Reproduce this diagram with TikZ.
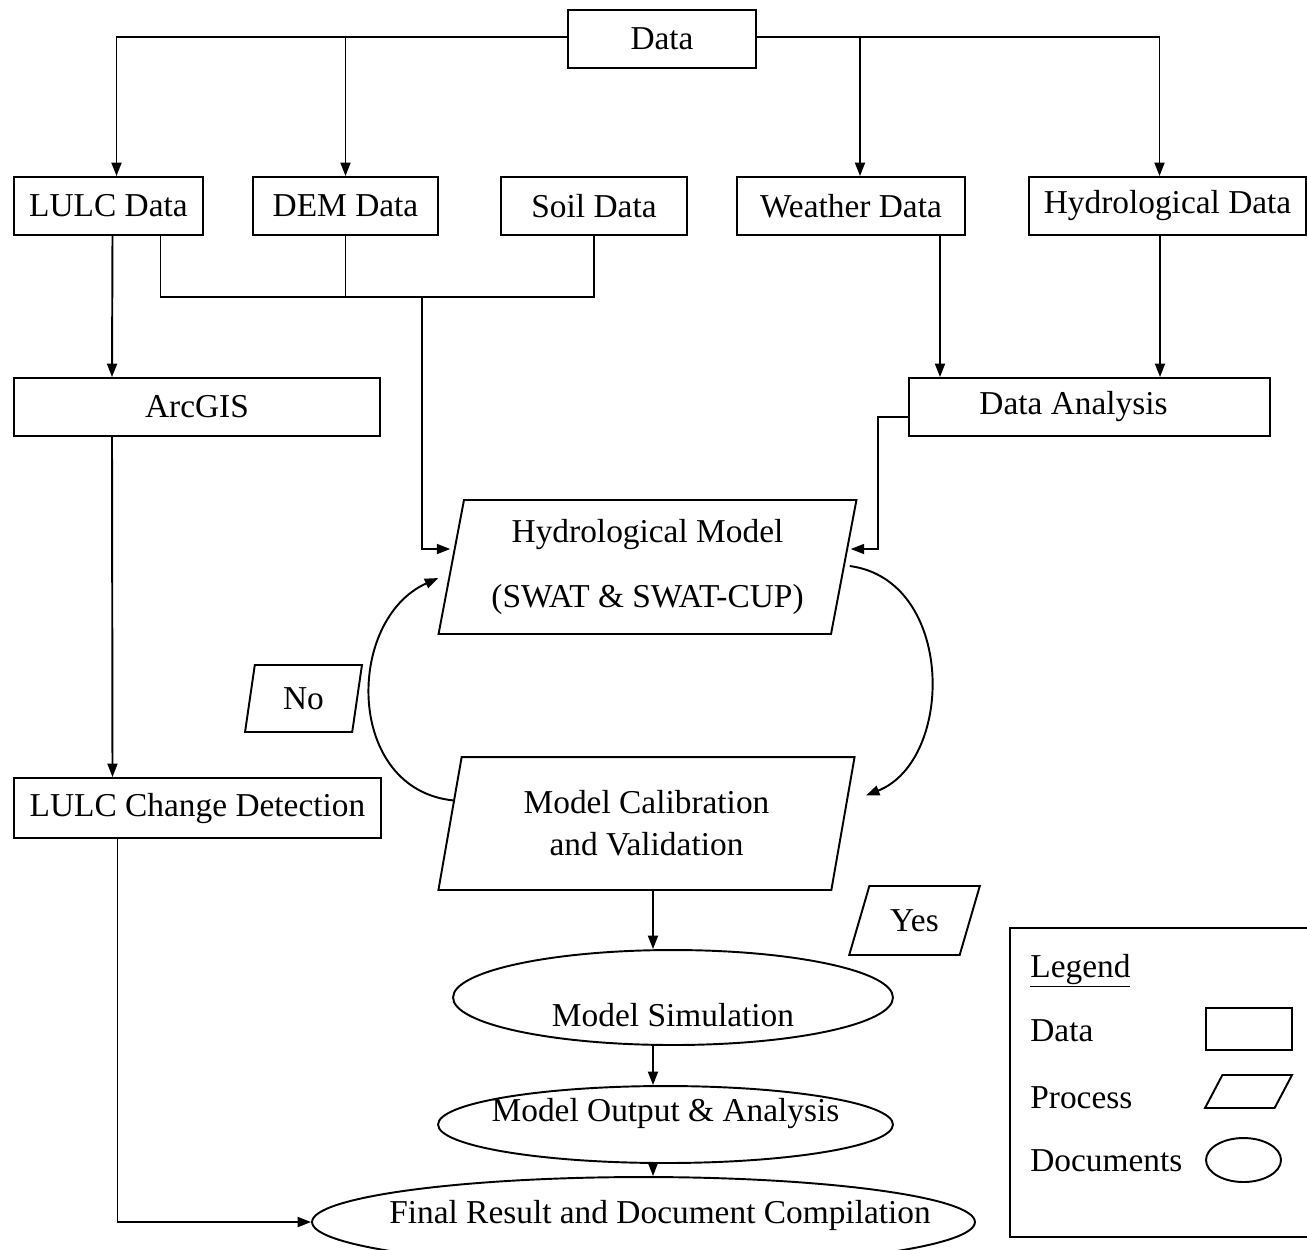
\documentclass[tikz,border=0pt]{standalone}
\usepackage{fontspec}
\setmainfont{Liberation Serif}
\usetikzlibrary{shapes,arrows.meta,positioning,calc}

\tikzset{
  databox/.style={draw,line width=1.1pt,minimum height=1.16cm,inner sep=2pt},
  procbox/.style={draw,line width=1.1pt,trapezium,trapezium stretches=true,inner sep=2pt},
  docbox/.style={draw,line width=1.1pt,ellipse,inner sep=0pt},
  link/.style={line width=1.1pt}
}

\begin{document}
\begin{tikzpicture}[x=0.02cm,y=-0.02cm,font=\fontsize{19}{24}\selectfont,
  >={Triangle[length=0.27cm,width=0.2cm]}]
\useasboundingbox (0,0) rectangle (1307,1249);

% data row
\node[databox,minimum width=3.76cm] (data) at (662,39) {\raisebox{-0.1cm}{Data}};
\foreach \nm/\cx/\w/\txt in {lulc/108.5/189/LULC Data, dem/345.5/185/DEM Data,
    soil/594/186/Soil Data, wthr/851/228/Weather Data, hyd/1167.5/277/Hydrological Data}
  \node[databox,minimum width=\w*0.02cm] (\nm) at (\cx,206) {\txt};

\node[databox,minimum width=7.32cm] (arcgis) at (197,407) {ArcGIS};
\node[databox,minimum width=7.22cm] (anls) at (1089.5,407) {Data Analysis\hspace*{0.64cm}};
\node[databox,minimum width=7.34cm,minimum height=1.2cm] (lcd) at (197.5,808) {LULC Change Detection};

% process nodes
\node[procbox,minimum width=8.38cm,minimum height=2.68cm,trapezium left angle=77.8,
  trapezium right angle=102.2,align=center] (hmod) at (647.5,567)
  {Hydrological Model\\[13pt](SWAT \& SWAT-CUP)};
\node[procbox,minimum width=8.34cm,minimum height=2.66cm,trapezium left angle=77.7,
  trapezium right angle=102.3,align=center] (calib) at (646.5,823.5)
  {Model Calibration\\and Validation};
\node[procbox,minimum width=2.62cm,minimum height=1.38cm,trapezium left angle=67,
  trapezium right angle=113] (yes) at (914.5,920.5) {Yes};
\node[procbox,minimum width=2.34cm,minimum height=1.34cm,trapezium left angle=80.7,
  trapezium right angle=99.3] (no) at (303.5,698.5) {No};

% documents
\node[docbox,minimum width=8.8cm,minimum height=1.9cm,
  label={[yshift=-0.36cm]center:Model Simulation}] (sim) at (673,997.5) {};
\node[docbox,minimum width=9.1cm,minimum height=1.54cm,
  label={[yshift=0.22cm]center:Model Output \& Analysis}] (out) at (665.5,1124.5) {};
\node[docbox,minimum width=13.26cm,minimum height=1.8cm,
  label={[xshift=0.33cm,yshift=0.14cm]center:Final Result and Document Compilation}] (final) at (643.5,1222) {};

% from data
\draw[link,->] ($(data.west)+(0,-2)$) -| ($(lulc.north)+(8,0)$);
\draw[link,->] ($(data.west)+(0,-2)$) -| (dem.north);
\draw[link,->] ($(data.east)+(0,-2)$) -| ($(wthr.north)+(9,0)$);
\draw[link,->] ($(data.east)+(0,-2)$) -| ($(hyd.north)+(-8,0)$);

% spatial data into model
\coordinate (merge) at (422,297);
\draw[link] ($(lulc.south)+(52,0)$) |- (merge) -| (soil.south);
\draw[link] (dem.south) -- (dem.south |- merge);
\draw[link,->] (merge) |- ($(hmod.west)+(0,-18)$);

% lulc branch
\draw[link,->] ($(lulc.south)+(4,0)$) -- ($(arcgis.north)+(-85,0)$);
\draw[link,->] ($(arcgis.south)+(-85,0)$) -- ($(lcd.north)+(-85,0)$);
\draw[link,->] ($(lcd.south)+(-80,0)$) |- (final.west);

% weather / hydrological branch
\draw[link,->] ($(wthr.south)+(89,0)$) -- ($(anls.north)+(-149.5,0)$);
\draw[link,->] ($(hyd.south)+(-7.5,0)$) -- ($(anls.north)+(70.5,0)$);
\draw[link,->] ($(anls.west)+(0,10)$) -- ++(-30,0) |- ($(hmod.east)+(6,-18)$);

% calibration loop
\draw[link,->] ($(calib.west)+(5,-23)$) .. controls (345,790) and (345,620) .. ($(hmod.west)+(-12,11)$);
\draw[link,->] ($(hmod.east)+(5,-1)$) .. controls (955,580) and (955,760) .. ($(calib.east)+(22,-28)$);

% output chain
\coordinate (c1) at ($(calib.center)+(6.5,0)$);
\draw[link,->] (c1 |- calib.south) -- (c1 |- sim.north);
\draw[link,->] (c1 |- sim.south) -- (c1 |- out.north);
\draw[link,->] (c1 |- out.south) -- (c1 |- final.north);

% legend
\node[draw,line width=1.1pt,minimum width=6cm,minimum height=6.18cm] (lgd) at (1160,1082.5) {};
\node[anchor=base west,inner sep=0] (lgdt) at (1030,977) {\underline{Legend}};
\foreach \txt/\yb [count=\n] in {Data/1041,Process/1108,Documents/1171}
  \node[anchor=base west,inner sep=0] (lk\n) at (1030,\yb) {\txt};
\node[databox,minimum width=1.72cm,minimum height=0.84cm] (lsym1) at (1249,1029) {};
\node[procbox,minimum width=1.74cm,minimum height=0.66cm,trapezium left angle=71.6,
  trapezium right angle=108.4] (lsym2) at (1248.5,1091.5) {};
\node[docbox,minimum width=1.5cm,minimum height=0.88cm] (lsym3) at (1243.5,1160) {};
\end{tikzpicture}
\end{document}
